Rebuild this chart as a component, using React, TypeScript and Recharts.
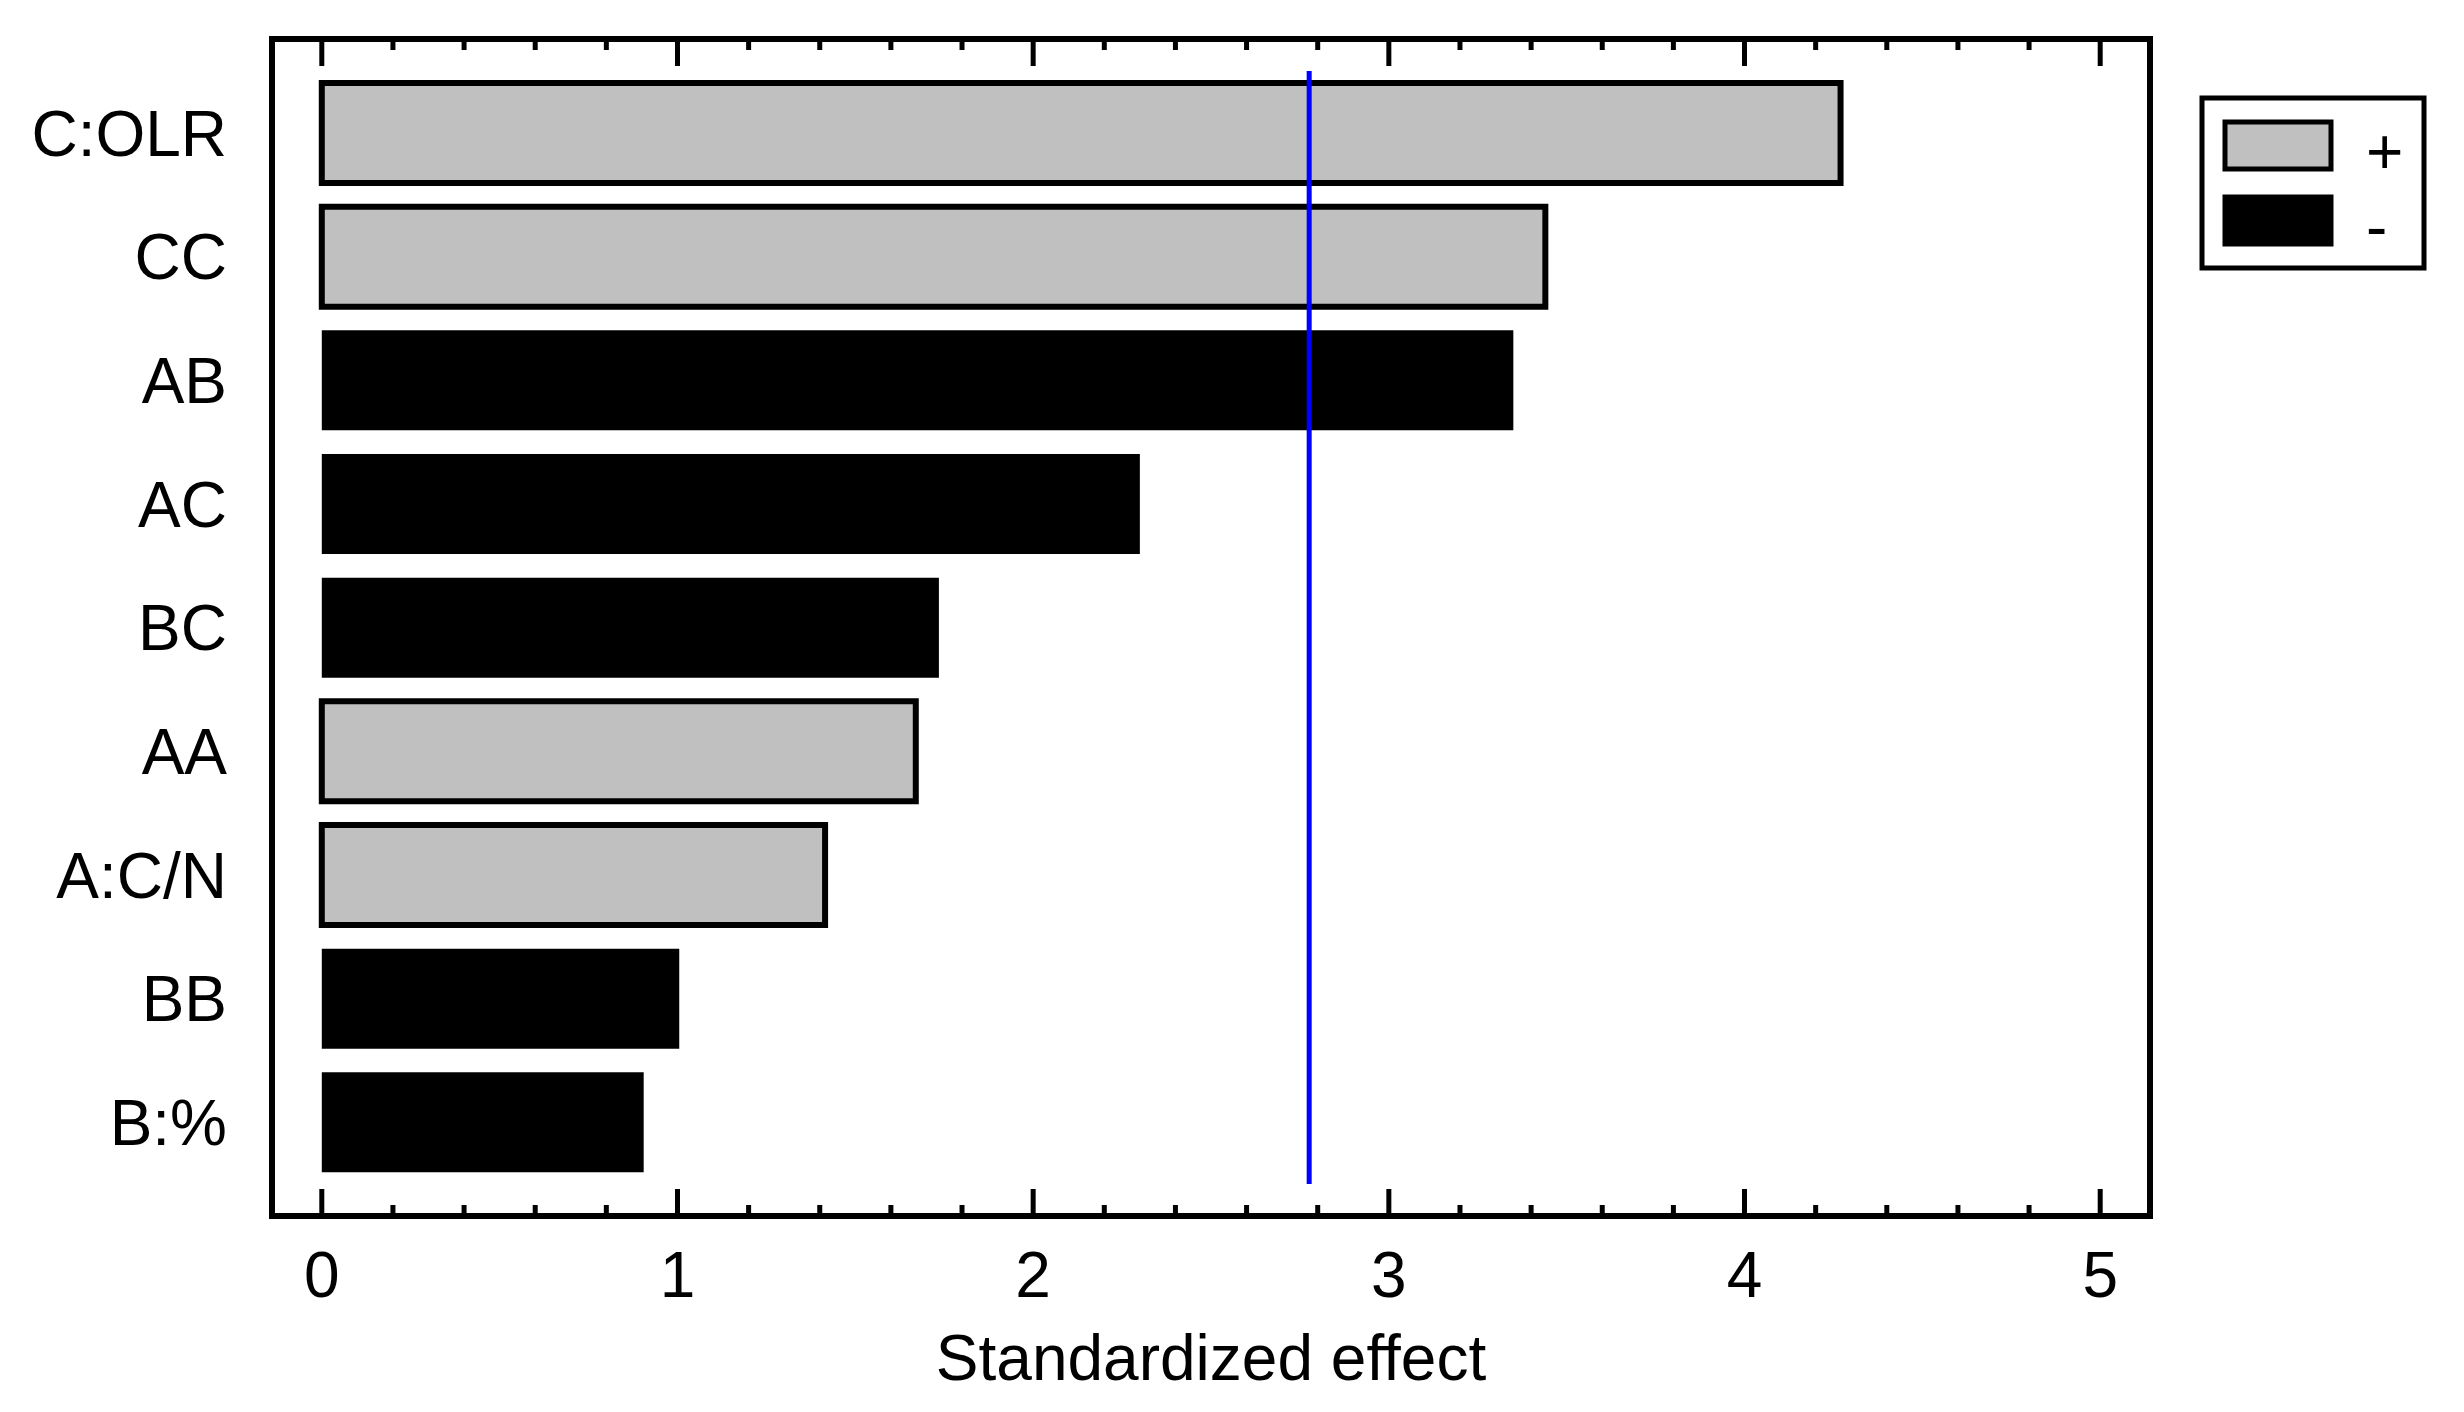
import {
  Bar,
  BarChart,
  Cell,
  Legend,
  ReferenceLine,
  XAxis,
  YAxis,
} from "recharts";

const FONT = "'Liberation Sans', Arial, Helvetica, sans-serif";

// Pareto chart of standardized effects
const FACTORS = ["C:OLR", "CC", "AB", "AC", "BC", "AA", "A:C/N", "BB", "B:%"];
const EFFECTS = [4.27, 3.44, 3.35, 2.3, 1.735, 1.67, 1.415, 1.005, 0.905];
const SIGNS = ["+", "+", "-", "-", "-", "+", "+", "-", "-"];
const CRITICAL_T = 2.776;

const X_TICKS = [
  0, 0.2, 0.4, 0.6, 0.8, 1, 1.2, 1.4, 1.6, 1.8, 2, 2.2, 2.4, 2.6, 2.8, 3, 3.2,
  3.4, 3.6, 3.8, 4, 4.2, 4.4, 4.6, 4.8, 5,
];
const X_MAJOR = [0, 1, 2, 3, 4, 5];
const X_DOMAIN = [-0.14, 5.14];

const LEGEND_LABELS = ["+", "-"];
const SIGN_FILL: Record<string, string> = { "+": "#c0c0c0", "-": "#000000" };

const data = FACTORS.map((name, i) => ({
  name,
  value: EFFECTS[i],
  sign: SIGNS[i],
}));

const AXIS_LINE = { stroke: "#000", strokeWidth: 6, strokeLinecap: "square" as const };

function BottomTick({ x, y, payload }: any) {
  const major = X_MAJOR.includes(payload.value);
  return (
    <g>
      <line
        x1={x}
        x2={x}
        y1={y}
        y2={y - (major ? 27 : 11)}
        stroke="#000"
        strokeWidth={5}
      />
      {major && (
        <text
          x={x}
          y={y + 81}
          textAnchor="middle"
          fontSize={64}
          fontFamily={FONT}
          fill="#000"
        >
          {payload.value}
        </text>
      )}
    </g>
  );
}

function TopTick({ x, y, payload }: any) {
  const major = X_MAJOR.includes(payload.value);
  return (
    <line
      x1={x}
      x2={x}
      y1={y}
      y2={y + (major ? 27 : 11)}
      stroke="#000"
      strokeWidth={5}
    />
  );
}

function LegendBox() {
  return (
    <svg width={246} height={194}>
      <rect x={12} y={12} width={222} height={170} fill="#fff" stroke="#000" strokeWidth={5} />
      {LEGEND_LABELS.map((s, i) => (
        <g key={s}>
          <rect
            x={35}
            y={36 + i * 75}
            width={106}
            height={47}
            fill={SIGN_FILL[s]}
            stroke="#000"
            strokeWidth={5}
          />
          <text
            x={176}
            y={88 + i * 75}
            fontSize={64}
            fontFamily={FONT}
            fill="#000"
          >
            {s}
          </text>
        </g>
      ))}
    </svg>
  );
}

export default function App() {
  return (
    <div
      style={{
        position: "absolute",
        left: 0,
        top: 0,
        width: 2464,
        height: 1412,
        background: "#fff",
      }}
    >
      <BarChart
        width={2464}
        height={1412}
        data={data}
        layout="vertical"
        margin={{ top: 9, right: 0, bottom: 46, left: 0 }}
      >
        <XAxis
          type="number"
          domain={X_DOMAIN}
          allowDataOverflow
          ticks={X_TICKS}
          interval={0}
          height={150}
          tickSize={0}
          tickMargin={0}
          tickLine={false}
          axisLine={AXIS_LINE}
          tick={<BottomTick />}
          label={{
            content: ({ viewBox }: any) => (
              <text
                x={viewBox.x + viewBox.width / 2}
                y={viewBox.y + 164}
                textAnchor="middle"
                fontSize={64}
                fontFamily={FONT}
                fill="#000"
              >
                Standardized effect
              </text>
            ),
          }}
        />
        <XAxis
          xAxisId="top"
          orientation="top"
          type="number"
          domain={X_DOMAIN}
          allowDataOverflow
          ticks={X_TICKS}
          interval={0}
          height={30}
          tickSize={0}
          tickMargin={0}
          tickLine={false}
          axisLine={AXIS_LINE}
          tick={<TopTick />}
        />
        <YAxis
          yAxisId="cat"
          type="category"
          dataKey="name"
          width={272}
          interval={0}
          padding={{ top: 32, bottom: 32 }}
          tickSize={0}
          tickMargin={45}
          tickLine={false}
          axisLine={AXIS_LINE}
          tick={{ fill: "#000", fontSize: 64, fontFamily: FONT }}
        />
        <YAxis
          yAxisId="num"
          orientation="right"
          type="number"
          domain={[0, 8]}
          allowDataOverflow
          width={314}
          padding={{ top: 32, bottom: 32 }}
          tick={false}
          tickLine={false}
          axisLine={AXIS_LINE}
        />
        <Legend
          layout="vertical"
          align="center"
          verticalAlign="middle"
          content={<LegendBox />}
          wrapperStyle={{ position: "absolute", left: 2190, top: 86, width: 246, height: 194 }}
        />
        <Bar
          yAxisId="cat"
          dataKey="value"
          barSize={100}
          isAnimationActive={false}
        >
          {data.map((d) => (
            <Cell
              key={d.name}
              fill={SIGN_FILL[d.sign]}
              stroke="#000"
              strokeWidth={d.sign === "+" ? 6 : 0}
            />
          ))}
        </Bar>
        <ReferenceLine
          yAxisId="num"
          segment={[
            { x: CRITICAL_T, y: 0 },
            { x: CRITICAL_T, y: 8 },
          ]}
          stroke="#0000ff"
          strokeWidth={5}
          ifOverflow="visible"
        />
      </BarChart>
    </div>
  );
}
